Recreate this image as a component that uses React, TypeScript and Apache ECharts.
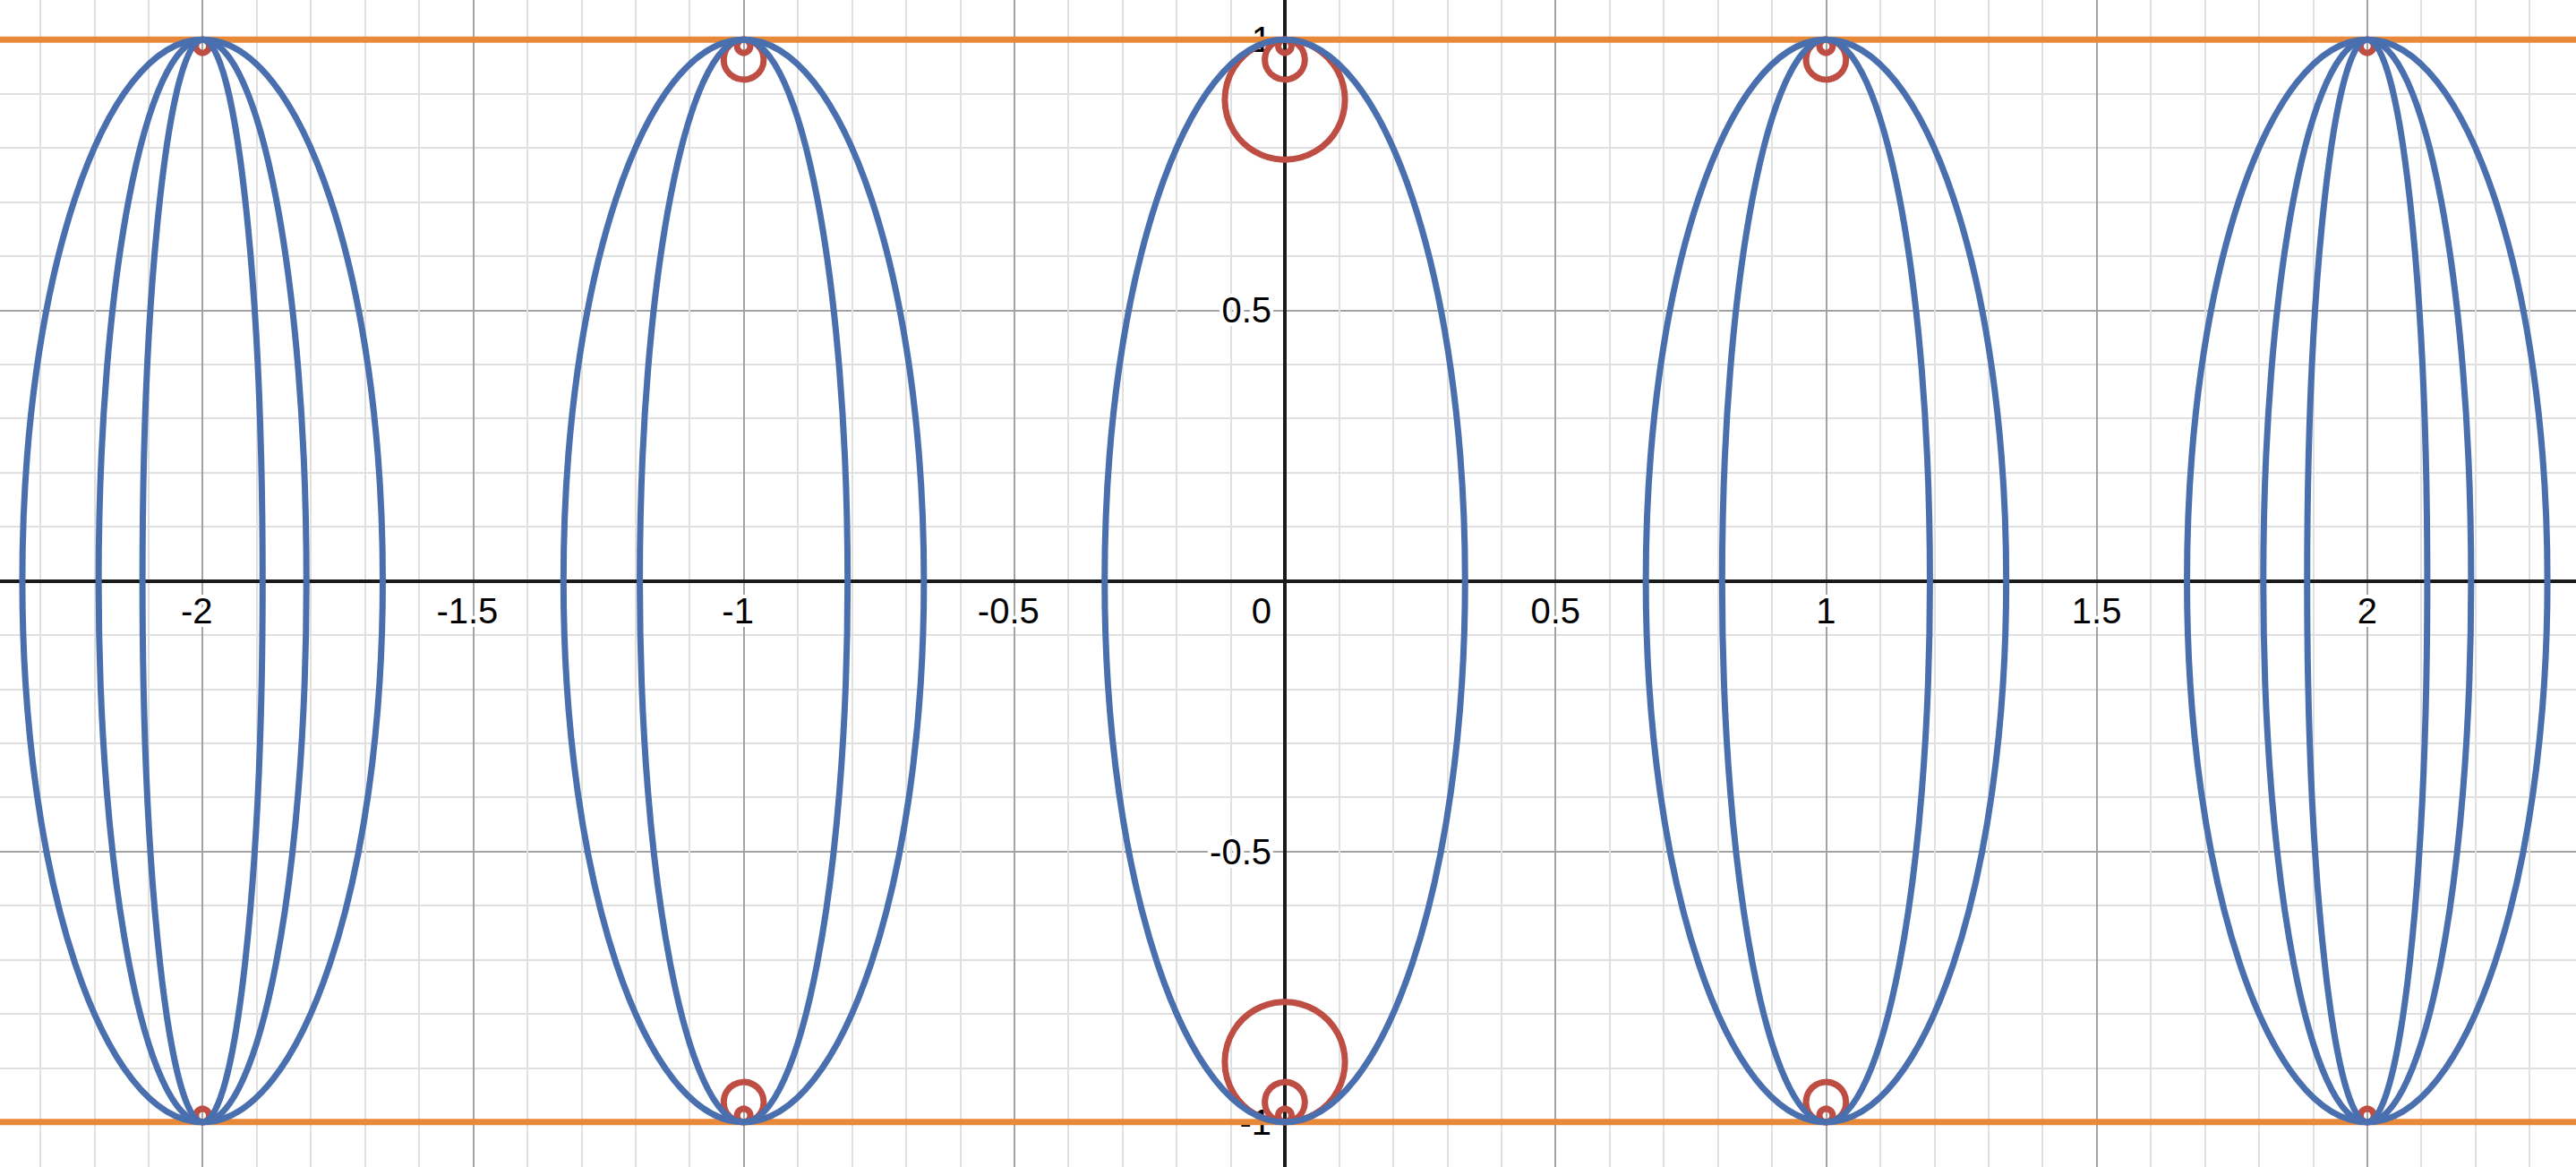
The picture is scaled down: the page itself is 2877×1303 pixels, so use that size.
import React, { useEffect, useRef } from "react";
import * as echarts from "echarts";

// ---- data ----
const ellipseCenters = [-2, -1, 0, 1, 2];
// horizontal semi-axes of the blue ellipses at each centre (vertical semi-axis = 1)
const ellipseWidths = [
  [0.333, 0.192, 0.111],
  [0.333, 0.192],
  [0.333],
  [0.333, 0.192],
  [0.333, 0.192, 0.111],
];
const ellipseHeight = 1;
// radii of the red circles touching y = ±1 at each centre
const circleRadii = [
  [0.0123],
  [0.037, 0.0123],
  [0.111, 0.037, 0.0123],
  [0.037, 0.0123],
  [0.0123],
];
const boundLines = [1, -1];
const xRange = [-2.5, 2.5];
const yRange = [-1.5, 1.5];
const xLabelLimit = 2; // labelled x ticks: -2 … 2
const yLabelLimit = 1; // labelled y ticks: -1 … 1
const majorStep = 0.5;
const minorSplits = 5;

const BLUE = "#4A6FAE";
const RED = "#BE4D43";
const ORANGE = "#E8893A";
const FONT = "'Liberation Sans', Arial, sans-serif";

// chart box (overflows the visible page so that the visible window matches the reference)
const BOX_W = 3022;
const BOX_H = 1813;
const BOX_LEFT = -76;
const BOX_TOP = -258;

const ellipseData: number[][] = [];
ellipseCenters.forEach((c, i) => {
  ellipseWidths[i].forEach((a) => ellipseData.push([c, 0, a, ellipseHeight]));
});
const circleData: number[][] = [];
ellipseCenters.forEach((c, i) => {
  circleRadii[i].forEach((r) => {
    circleData.push([c, 1 - r, r]);
    circleData.push([c, -1 + r, r]);
  });
});

const textBase = {
  fontSize: 40,
  fontFamily: FONT,
  color: "#000",
  textBorderColor: "#fff",
  textBorderWidth: 8,
};

const gridAxis = (range: number[]) => ({
  type: "value",
  min: range[0],
  max: range[1],
  interval: majorStep,
  z: 0,
  axisLine: { show: false, onZero: false },
  axisTick: { show: false },
  axisLabel: { show: false },
  splitLine: { show: true, lineStyle: { color: "#A3A3A3", width: 2 } },
  minorTick: { show: false, splitNumber: minorSplits },
  minorSplitLine: { show: true, lineStyle: { color: "#E0E0E0", width: 2 } },
});

// pixel offsets that move the labelled axes from the grid edge to the zero lines
const xZeroOffset = -(BOX_H * (0 - yRange[0])) / (yRange[1] - yRange[0]);
const yZeroOffset = -(BOX_W * (0 - xRange[0])) / (xRange[1] - xRange[0]);

const option: any = {
  animation: false,
  backgroundColor: "#fff",
  grid: {
    left: 0,
    right: 0,
    top: 0,
    bottom: 0,
    containLabel: false,
    outerBoundsMode: "none",
  },
  xAxis: [
    { ...gridAxis(xRange), position: "bottom" },
    {
      type: "value",
      min: xRange[0],
      max: xRange[1],
      interval: majorStep,
      position: "bottom",
      offset: xZeroOffset,
      z: 1,
      axisLine: {
        show: true,
        onZero: false,
        lineStyle: { color: "#1A1A1A", width: 4 },
      },
      axisTick: { show: false },
      splitLine: { show: false },
      axisLabel: {
        ...textBase,
        margin: 13,
        formatter: (v: number) =>
          v === 0 || Math.abs(v) > xLabelLimit
            ? ""
            : v < 0
            ? "{n|" + v + "}"
            : String(v),
        rich: {
          n: { ...textBase, padding: [0, 13, 0, 0] },
        },
      },
    },
  ],
  yAxis: [
    { ...gridAxis(yRange), position: "left" },
    {
      type: "value",
      min: yRange[0],
      max: yRange[1],
      interval: majorStep,
      position: "left",
      offset: yZeroOffset,
      z: 1,
      axisLine: {
        show: true,
        onZero: false,
        lineStyle: { color: "#1A1A1A", width: 4 },
      },
      axisTick: { show: false },
      splitLine: { show: false },
      axisLabel: {
        ...textBase,
        margin: 15,
        formatter: (v: number) =>
          v === 0 ? "{z|0}" : Math.abs(v) > yLabelLimit ? "" : String(v),
        rich: {
          z: { ...textBase, padding: [66, 0, 0, 0] },
        },
      },
    },
  ],
  series: [
    ...boundLines.map((y) => ({
      type: "line",
      xAxisIndex: 0,
      yAxisIndex: 0,
      z: 3,
      symbol: "none",
      silent: true,
      lineStyle: { color: ORANGE, width: 7 },
      data: [
        [xRange[0], y],
        [xRange[1], y],
      ],
    })),
    {
      type: "custom",
      xAxisIndex: 0,
      yAxisIndex: 0,
      z: 4,
      silent: true,
      clip: false,
      encode: { x: 0, y: 1 },
      data: circleData,
      renderItem: (params: any, api: any) => {
        const c = api.coord([api.value(0), api.value(1)]);
        const s = api.size([api.value(2), api.value(2)]);
        return {
          type: "circle",
          shape: { cx: c[0], cy: c[1], r: s[1] },
          style: { fill: "none", stroke: RED, lineWidth: 7 },
        };
      },
    },
    {
      type: "custom",
      xAxisIndex: 0,
      yAxisIndex: 0,
      z: 5,
      silent: true,
      clip: false,
      encode: { x: 0, y: 1 },
      data: ellipseData,
      renderItem: (params: any, api: any) => {
        const c = api.coord([api.value(0), api.value(1)]);
        const s = api.size([api.value(2), api.value(3)]);
        return {
          type: "ellipse",
          shape: { cx: c[0], cy: c[1], rx: s[0], ry: s[1] },
          style: { fill: "none", stroke: BLUE, lineWidth: 7 },
        };
      },
    },
  ],
};

export default function App() {
  const ref = useRef<HTMLDivElement>(null);
  useEffect(() => {
    document.body.style.margin = "0";
    document.body.style.overflow = "hidden";
    const chart = echarts.init(ref.current as HTMLDivElement, null, { renderer: "svg" });
    chart.setOption(option);
    return () => chart.dispose();
  }, []);
  return (
    <div
      style={{
        position: "relative",
        width: 2877,
        height: 1303,
        overflow: "hidden",
        background: "#fff",
      }}
    >
      <div
        ref={ref}
        style={{ position: "absolute", left: BOX_LEFT, top: BOX_TOP, width: BOX_W, height: BOX_H }}
      />
    </div>
  );
}
